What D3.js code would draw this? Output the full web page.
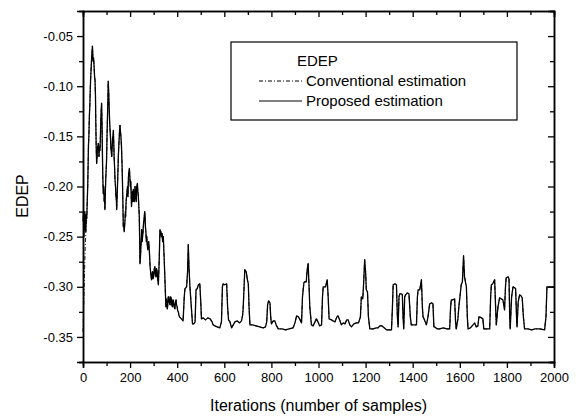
<!DOCTYPE html>
<html>
<head>
<meta charset="utf-8">
<script src="https://cdn.jsdelivr.net/npm/d3@7"></script>
<style>
  body { margin: 0; background: #fff; }
  svg { display: block; font-family: "Liberation Sans", Arial, sans-serif; }
</style>
</head>
<body>
<svg width="576" height="417"></svg>
<script>
// early, noisy part of the run (iterations 0-410)
const earlyIter = [0,2,4,6,8,10,12,14,16,18,
  20,22,23,25,27,29,30,32,34,36,
  37,39,40,42,43,45,47,49,51,53,
  54,56,58,60,61,63,65,67,68,70,
  72,74,75,77,79,81,82,84,86,88,
  90,92,93,95,97,99,100,102,104,106,
  107,109,111,113,115,117,118,120,122,124,
  125,127,129,131,132,134,136,138,140,142,
  143,145,147,149,150,152,154,156,157,159,
  161,163,164,166,168,170,171,173,175,177,
  178,180,181,183,185,187,189,191,193,195,
  197,199,201,203,206,208,210,212,214,216,
  218,220,221,224,226,228,231,233,235,237,
  239,241,242,244,246,248,249,251,253,255,
  256,258,260,262,263,265,267,269,271,273,
  275,277,279,281,283,285,287,289,291,293,
  295,297,300,302,305,307,310,312,315,317,
  320,322,324,326,327,329,331,333,336,338,
  341,343,346,349,352,354,356,358,360,362,
  365,367,370,372,375,377,380,382,385,387,
  390,392,395,397,400,402,405,407,410];
const earlyEdep = [-0.235,-0.225,-0.25,-0.232,-0.225,-0.243,-0.245,-0.228,-0.232,-0.215,
  -0.2,-0.175,-0.16,-0.15,-0.13,-0.12,-0.11,-0.095,-0.085,-0.075,
  -0.07,-0.064,-0.06,-0.07,-0.075,-0.072,-0.08,-0.09,-0.094,-0.11,
  -0.13,-0.16,-0.177,-0.17,-0.165,-0.16,-0.157,-0.165,-0.17,-0.16,
  -0.164,-0.15,-0.14,-0.125,-0.117,-0.14,-0.16,-0.19,-0.207,-0.2,
  -0.215,-0.21,-0.223,-0.205,-0.19,-0.18,-0.174,-0.15,-0.13,-0.11,
  -0.095,-0.105,-0.12,-0.135,-0.144,-0.152,-0.16,-0.165,-0.17,-0.16,
  -0.155,-0.15,-0.144,-0.16,-0.17,-0.18,-0.193,-0.2,-0.21,-0.215,
  -0.223,-0.21,-0.195,-0.18,-0.17,-0.16,-0.15,-0.142,-0.139,-0.145,
  -0.15,-0.158,-0.164,-0.18,-0.2,-0.225,-0.24,-0.238,-0.245,-0.238,
  -0.235,-0.225,-0.23,-0.215,-0.21,-0.205,-0.2,-0.21,-0.19,-0.185,
  -0.182,-0.19,-0.2,-0.195,-0.22,-0.21,-0.205,-0.215,-0.203,-0.21,
  -0.215,-0.205,-0.2,-0.212,-0.215,-0.2,-0.197,-0.205,-0.21,-0.22,
  -0.23,-0.26,-0.277,-0.27,-0.26,-0.25,-0.243,-0.255,-0.25,-0.245,
  -0.24,-0.235,-0.23,-0.225,-0.227,-0.24,-0.245,-0.255,-0.25,-0.258,
  -0.263,-0.26,-0.255,-0.262,-0.27,-0.28,-0.285,-0.29,-0.293,-0.288,
  -0.285,-0.292,-0.29,-0.283,-0.28,-0.287,-0.29,-0.282,-0.285,-0.292,
  -0.298,-0.285,-0.27,-0.25,-0.243,-0.248,-0.245,-0.25,-0.247,-0.255,
  -0.25,-0.262,-0.28,-0.3,-0.32,-0.312,-0.315,-0.322,-0.318,-0.31,
  -0.31,-0.316,-0.318,-0.31,-0.312,-0.318,-0.32,-0.313,-0.315,-0.32,
  -0.322,-0.317,-0.313,-0.318,-0.32,-0.324,-0.325,-0.328,-0.33];

// settled part of the run (iterations 418-2000)
const lateIter = [418,425,430,433,440,444,447,450,454,460,465,470,476,480,485,490,496,500,503,510,520,530,540,548,553,560,570,581,588,592,595,602,610,614,618,624,631,638,645,655,665,673,678,680,684,687,693,698,702,705,709,720,735,750,765,775,780,784,788,794,797,800,808,815,820,829,845,860,875,892,900,907,915,922,928,932,938,942,948,952,956,960,963,970,977,985,991,998,1005,1013,1017,1020,1030,1037,1041,1045,1055,1062,1070,1078,1083,1090,1097,1105,1112,1120,1126,1133,1140,1150,1161,1170,1178,1182,1188,1192,1196,1200,1203,1208,1212,1218,1232,1245,1253,1260,1270,1280,1290,1300,1310,1314,1317,1325,1331,1335,1338,1342,1345,1352,1356,1359,1362,1366,1370,1377,1384,1390,1394,1405,1416,1420,1423,1430,1437,1441,1444,1450,1458,1465,1472,1480,1486,1490,1493,1505,1514,1530,1545,1557,1561,1564,1572,1578,1582,1585,1592,1596,1602,1606,1611,1616,1620,1628,1632,1635,1645,1656,1663,1670,1677,1681,1684,1692,1698,1702,1710,1727,1731,1734,1740,1748,1752,1755,1762,1769,1776,1783,1790,1794,1797,1805,1809,1812,1814,1820,1826,1833,1837,1841,1843,1848,1854,1860,1865,1870,1875,1890,1905,1920,1940,1960,1966,1970,1985,2000];
const lateEdep = [-0.332,-0.334,-0.31,-0.302,-0.3,-0.285,-0.258,-0.28,-0.3,-0.32,-0.337,-0.337,-0.335,-0.303,-0.302,-0.298,-0.297,-0.315,-0.332,-0.331,-0.333,-0.331,-0.332,-0.335,-0.338,-0.339,-0.34,-0.341,-0.335,-0.3,-0.297,-0.298,-0.297,-0.32,-0.333,-0.335,-0.341,-0.338,-0.335,-0.334,-0.336,-0.334,-0.328,-0.322,-0.3,-0.283,-0.285,-0.293,-0.297,-0.32,-0.338,-0.338,-0.339,-0.34,-0.341,-0.34,-0.335,-0.318,-0.314,-0.316,-0.33,-0.337,-0.334,-0.334,-0.338,-0.342,-0.342,-0.343,-0.342,-0.341,-0.336,-0.329,-0.33,-0.333,-0.336,-0.31,-0.296,-0.295,-0.295,-0.283,-0.277,-0.3,-0.32,-0.338,-0.339,-0.335,-0.332,-0.335,-0.339,-0.338,-0.31,-0.3,-0.3,-0.293,-0.31,-0.332,-0.333,-0.334,-0.335,-0.33,-0.329,-0.333,-0.338,-0.336,-0.337,-0.333,-0.333,-0.338,-0.34,-0.337,-0.336,-0.336,-0.33,-0.31,-0.312,-0.295,-0.273,-0.285,-0.303,-0.305,-0.33,-0.342,-0.342,-0.341,-0.341,-0.339,-0.339,-0.341,-0.343,-0.343,-0.343,-0.32,-0.298,-0.297,-0.298,-0.33,-0.34,-0.31,-0.307,-0.307,-0.308,-0.33,-0.342,-0.31,-0.308,-0.306,-0.307,-0.33,-0.338,-0.338,-0.338,-0.31,-0.303,-0.303,-0.293,-0.32,-0.33,-0.333,-0.338,-0.33,-0.317,-0.316,-0.317,-0.34,-0.34,-0.342,-0.342,-0.341,-0.342,-0.342,-0.32,-0.313,-0.313,-0.312,-0.335,-0.342,-0.332,-0.32,-0.307,-0.298,-0.295,-0.269,-0.29,-0.3,-0.33,-0.342,-0.341,-0.338,-0.336,-0.34,-0.339,-0.33,-0.33,-0.331,-0.332,-0.342,-0.342,-0.342,-0.31,-0.298,-0.297,-0.293,-0.32,-0.338,-0.32,-0.311,-0.312,-0.313,-0.323,-0.3,-0.291,-0.29,-0.292,-0.33,-0.342,-0.31,-0.3,-0.301,-0.302,-0.33,-0.34,-0.315,-0.308,-0.309,-0.311,-0.33,-0.342,-0.342,-0.343,-0.342,-0.342,-0.343,-0.33,-0.3,-0.3,-0.3];

// conventional estimation differs only at the very start, then follows the proposed one
const conventionalHeadIter = [0,3,6,9,12,16];
const conventionalHead = [-0.345,-0.32,-0.29,-0.265,-0.245,-0.232];

const xTicks = [0,200,400,600,800,1000,1200,1400,1600,1800,2000];
const yTicks = [-0.35,-0.30,-0.25,-0.20,-0.15,-0.10,-0.05];
const legendLabels = ["Conventional estimation","Proposed estimation"];

const svg = d3.select("svg");
const margin = {top: 11, right: 22, bottom: 55, left: 83};
const width = +svg.attr("width") - margin.left - margin.right;
const height = +svg.attr("height") - margin.top - margin.bottom;

const x = d3.scaleLinear().domain([0, 2000]).range([0, width]);
const y = d3.scaleLinear().domain([-0.375, -0.025]).range([height, 0]);

const g = svg.append("g").attr("transform", `translate(${margin.left},${margin.top})`);

const allIter = earlyIter.concat(lateIter);
const allEdep = earlyEdep.concat(lateEdep);
const proposedData = allIter.map((it, i) => ({x: it, y: allEdep[i]}));
const conventionalData = conventionalHeadIter.map((it, i) => ({x: it, y: conventionalHead[i]}))
  .concat(proposedData.filter(d => d.x > 16));

const line = d3.line().x(d => x(d.x)).y(d => y(d.y));

g.append("path")
  .datum(conventionalData)
  .attr("fill", "none")
  .attr("stroke", "#222")
  .attr("stroke-width", 1)
  .attr("stroke-dasharray", "4,2,1,2")
  .attr("d", line);

g.append("path")
  .datum(proposedData)
  .attr("fill", "none")
  .attr("stroke", "#000")
  .attr("stroke-width", 1.3)
  .attr("stroke-linejoin", "round")
  .attr("d", line);

// minor tick values
const xMinor = d3.range(100, 2000, 200);
const yMinor = d3.range(-0.375, -0.02, 0.05);

function styleAxis(sel) {
  sel.select(".domain").attr("stroke", "#000").attr("stroke-width", 1.5);
  sel.selectAll(".tick line").attr("stroke", "#000").attr("stroke-width", 1.3);
  sel.selectAll("text").attr("font-size", 13).attr("fill", "#000")
    .attr("font-family", "Liberation Sans, Arial, sans-serif");
}

// bottom axis, outward ticks
g.append("g").attr("transform", `translate(0,${height})`)
  .call(d3.axisBottom(x).tickValues(xTicks).tickSize(6).tickPadding(5).tickFormat(d3.format("d")))
  .call(styleAxis);
g.append("g").attr("transform", `translate(0,${height})`)
  .call(d3.axisBottom(x).tickValues(xMinor).tickSize(4).tickFormat(""))
  .call(styleAxis);

// top axis, inward ticks
g.append("g")
  .call(d3.axisBottom(x).tickValues(xTicks).tickSize(6).tickFormat(""))
  .call(styleAxis);
g.append("g")
  .call(d3.axisBottom(x).tickValues(xMinor).tickSize(4).tickFormat(""))
  .call(styleAxis);

// left axis, outward ticks
g.append("g")
  .call(d3.axisLeft(y).tickValues(yTicks).tickSize(6).tickPadding(4).tickFormat(d3.format(".2f")))
  .call(styleAxis);
g.append("g")
  .call(d3.axisLeft(y).tickValues(yMinor).tickSize(4).tickFormat(""))
  .call(styleAxis);

// right axis, inward ticks
g.append("g").attr("transform", `translate(${width},0)`)
  .call(d3.axisLeft(y).tickValues(yTicks).tickSize(6).tickFormat(""))
  .call(styleAxis);
g.append("g").attr("transform", `translate(${width},0)`)
  .call(d3.axisLeft(y).tickValues(yMinor).tickSize(4).tickFormat(""))
  .call(styleAxis);

// plain hyphen for the minus sign, like the original
g.selectAll("text").each(function() {
  const t = d3.select(this);
  t.text(t.text().replace("\u2212", "-"));
});

// axis titles
svg.append("text")
  .attr("x", margin.left + width / 2)
  .attr("y", 411)
  .attr("text-anchor", "middle")
  .attr("font-size", 16)
  .text("Iterations (number of samples)");

svg.append("text")
  .attr("transform", "translate(28,196) rotate(-90)")
  .attr("text-anchor", "middle")
  .attr("font-size", 16)
  .text("EDEP");

// legend
const legend = svg.append("g").attr("class", "legend");
legend.append("rect")
  .attr("x", 231).attr("y", 42)
  .attr("width", 286).attr("height", 78)
  .attr("fill", "#fff").attr("stroke", "#000").attr("stroke-width", 1.2);

legend.append("text")
  .attr("x", 297).attr("y", 66)
  .attr("font-size", 15)
  .text("EDEP");

legendLabels.forEach((label, i) => {
  const ly = 81 + i * 20;
  legend.append("line")
    .attr("x1", 259).attr("x2", 302)
    .attr("y1", ly).attr("y2", ly)
    .attr("stroke", "#000")
    .attr("stroke-width", 1)
    .attr("stroke-dasharray", i === 0 ? "4,2,1,2" : null);
  legend.append("text")
    .attr("x", 306).attr("y", ly + 5)
    .attr("font-size", 15)
    .text(label);
});
</script>
</body>
</html>
